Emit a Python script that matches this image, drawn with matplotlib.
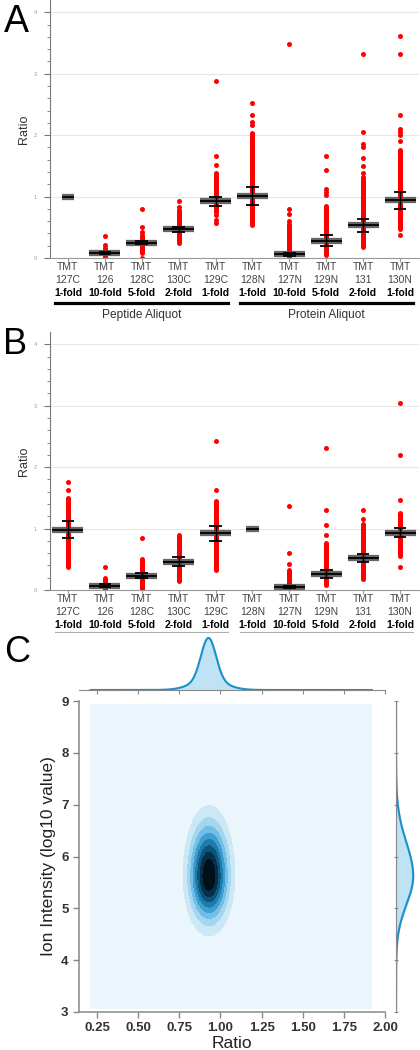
import numpy as np
import matplotlib
matplotlib.use('Agg')
import matplotlib.pyplot as plt
from matplotlib.transforms import blended_transform_factory, offset_copy
from matplotlib.colors import LinearSegmentedColormap

plt.rcParams['font.family'] = ['Liberation Sans', 'DejaVu Sans']

# === Channel labels ===
channels = ['127C', '126', '128C', '130C', '129C', '128N', '127N', '129N', '131', '130N']
folds = ['1-fold', '10-fold', '5-fold', '2-fold', '1-fold',
         '1-fold', '10-fold', '5-fold', '2-fold', '1-fold']
groups = [('Peptide Aliquot', 0, 4), ('Protein Aliquot', 5, 9)]

# === Panel A: mean, sd, dense range of points, isolated points ===
a_mean = [1.00, 0.08, 0.25, 0.47, 0.92, 1.01, 0.06, 0.28, 0.53, 0.94]
a_sd = [0.0, 0.02, 0.03, 0.04, 0.08, 0.14, 0.02, 0.09, 0.11, 0.135]
a_lo = [None, 0.00, 0.08, 0.27, 0.75, 0.54, 0.00, 0.05, 0.18, 0.48]
a_hi = [None, 0.13, 0.37, 0.78, 1.38, 2.03, 0.55, 0.85, 1.32, 1.76]
a_out = [[], [0.16, 0.21, 0.36], [0.0, 0.43, 0.51, 0.79], [0.24, 0.83, 0.92],
         [0.57, 0.62, 0.70, 1.51, 1.66, 2.88], [2.16, 2.22, 2.33, 2.53],
         [0.61, 0.72, 0.79, 3.49], [1.02, 1.08, 1.13, 1.43, 1.66],
         [1.38, 1.50, 1.62, 1.80, 1.85, 2.05, 3.32],
         [0.37, 1.90, 2.00, 2.05, 2.10, 2.32, 3.32, 3.62]]

# === Panel B ===
b_mean = [0.98, 0.07, 0.23, 0.46, 0.92, 1.00, 0.05, 0.26, 0.52, 0.93]
b_sd = [0.14, 0.02, 0.04, 0.075, 0.13, 0.0, 0.02, 0.06, 0.07, 0.075]
b_lo = [0.38, 0.00, 0.00, 0.14, 0.32, None, 0.00, 0.08, 0.20, 0.55]
b_hi = [1.50, 0.20, 0.50, 0.90, 1.45, None, 0.32, 0.76, 1.07, 1.25]
b_out = [[1.62, 1.75], [0.38], [0.85], [], [1.62, 2.43], [],
         [0.42, 0.60, 1.37], [0.90, 1.06, 1.30, 2.31], [0.18, 1.15, 1.30],
         [0.37, 1.47, 2.20, 3.05]]

# === Panel C: density (peak and spread) ===
ratio_center = 0.93
ratio_sd = 0.075
inten_center = 5.62
inten_sd_low = 0.55
inten_sd_high = 0.65
ratio_range = (0.21, 1.92)
inten_range = (3.07, 8.94)
# marginal ratio curve: sharp peak plus broader shoulder
marg_ratio_peak = 0.927
marg_ratio_sd = [0.045, 0.10]
marg_ratio_w = [0.65, 0.35]

fig = plt.figure(figsize=(4.2, 10.5), dpi=100)
W, H = 420.0, 1050.0


def strip_panel(ax, mean, sd, lo, hi, out, bold_groups):
    x = np.arange(len(channels))
    for i in x:
        if lo[i] is not None:
            ax.vlines(i, lo[i], hi[i], color='#ff0000', lw=3.6, zorder=2, capstyle='round')
        if out[i]:
            ax.plot([i] * len(out[i]), out[i], 'o', color='#ff0000', ms=3.6, mec='none', zorder=2)
        half = 0.42 if sd[i] > 0 else 0.17
        ax.hlines(mean[i], i - half, i + half, color='#555555', lw=4.5, alpha=0.9, zorder=3)
        ax.hlines(mean[i], i - half, i + half, color='black', lw=1.3, zorder=4)
        if sd[i] > 0:
            ax.vlines(i, mean[i] - sd[i], mean[i] + sd[i], color='black', lw=1.0, zorder=4)
            ax.hlines([mean[i] - sd[i], mean[i] + sd[i]], i - 0.17, i + 0.17,
                      color='black', lw=1.3, zorder=4)

    ax.set_xlim(-0.5, len(channels) - 0.5)
    ax.set_ylim(0, 4.2)
    ax.set_yticks([0, 1, 2, 3, 4])
    ax.set_yticks(np.arange(0, 4.2, 0.2), minor=True)
    ax.set_xticks(x)
    ax.set_xticklabels([])
    ax.grid(axis='y', color='#e6e6e6', lw=0.8)
    ax.set_axisbelow(True)
    for s in ['top', 'right']:
        ax.spines[s].set_visible(False)
    ax.spines['left'].set_color('#777777')
    ax.spines['bottom'].set_color('#999999')
    ax.tick_params(axis='y', which='major', length=4, color='#777777', labelsize=4,
                   labelcolor='#999999', pad=5)
    ax.tick_params(axis='y', which='minor', length=2.5, color='#777777')
    ax.tick_params(axis='x', length=3, color='#999999')
    ax.set_ylabel('Ratio', fontsize=9, color='#333333')
    ax.yaxis.set_label_coords(-0.053, 0.5)

    trans = blended_transform_factory(ax.transData, ax.transAxes)
    for i in x:
        ax.text(i, 0, 'TMT', transform=offset_copy(trans, fig=fig, y=-9, units='dots'),
                ha='center', va='center', fontsize=7.5, color='#444444')
        ax.text(i, 0, channels[i], transform=offset_copy(trans, fig=fig, y=-22, units='dots'),
                ha='center', va='center', fontsize=7.5, color='#444444')
        ax.text(i, 0, folds[i], transform=offset_copy(trans, fig=fig, y=-35, units='dots'),
                ha='center', va='center', fontsize=7.5, fontweight='bold', color='black')
    for name, g0, g1 in groups:
        if bold_groups:
            ax.plot([g0 - 0.35, g1 + 0.35], [0, 0], color='black', lw=2.3,
                    transform=offset_copy(trans, fig=fig, y=-45, units='dots'), clip_on=False)
            ax.text((g0 + g1) / 2, 0, name, ha='center', va='center', fontsize=8.6,
                    color='#333333',
                    transform=offset_copy(trans, fig=fig, y=-57, units='dots'))
        else:
            ax.plot([g0 - 0.35, g1 + 0.35], [0, 0], color='#b0b0b0', lw=0.8,
                    transform=offset_copy(trans, fig=fig, y=-42, units='dots'), clip_on=False)


# ==== Panel A ====
axA = fig.add_axes([49.5 / W, 1 - 258 / H, 369 / W, 258 / H])
strip_panel(axA, a_mean, a_sd, a_lo, a_hi, a_out, True)

# ==== Panel B ====
axB = fig.add_axes([49.5 / W, 1 - 590 / H, 369 / W, 258 / H])
strip_panel(axB, b_mean, b_sd, b_lo, b_hi, b_out, False)

# ==== Panel C ====
xg = np.linspace(ratio_range[0], ratio_range[1], 400)
yg = np.linspace(inten_range[0], inten_range[1], 400)
XX, YY = np.meshgrid(xg, yg)
sy = np.where(YY > inten_center, inten_sd_high, inten_sd_low)
ZZ = np.exp(-0.5 * ((XX - ratio_center) / ratio_sd) ** 2) * np.exp(-0.5 * ((YY - inten_center) / sy) ** 2)

cmap = LinearSegmentedColormap.from_list(
    'kde', ['#ebf6fc', '#c2e4f5', '#86c9ea', '#3d9fd2', '#15709f', '#073c5c', '#02101a'])
n_levels = 10
band_colors = [cmap(v) for v in np.linspace(0, 1, n_levels - 1)]

axC = fig.add_axes([79 / W, 1 - 1012 / H, 306 / W, 311 / H])
axC.contourf(XX, YY, ZZ, levels=np.linspace(0, ZZ.max(), n_levels), colors=band_colors)
axC.set_xlim(0.14, 2.0)
axC.set_ylim(3, 9)
axC.set_xticks([0.25, 0.50, 0.75, 1.00, 1.25, 1.50, 1.75, 2.00])
axC.set_xticklabels(['0.25', '0.50', '0.75', '1.00', '1.25', '1.50', '1.75', '2.00'])
axC.set_yticks([3, 4, 5, 6, 7, 8, 9])
for s in ['top', 'right']:
    axC.spines[s].set_visible(False)
for s in ['left', 'bottom']:
    axC.spines[s].set_color('#888888')
    axC.spines[s].set_linewidth(1.1)
axC.tick_params(length=4, width=1, color='#888888', labelsize=9.5, labelcolor='#333333')
for lab in axC.get_xticklabels() + axC.get_yticklabels():
    lab.set_fontweight('bold')
axC.set_xlabel('Ratio', fontsize=12.5, color='#222222', labelpad=1)
axC.set_ylabel('Ion Intensity (log10 value)', fontsize=12.5, color='#222222', labelpad=4)

line_col = '#1b91cc'
fill_col = '#bfe2f5'

# top marginal
dens_x = sum(w / s * np.exp(-0.5 * ((xg - marg_ratio_peak) / s) ** 2)
             for w, s in zip(marg_ratio_w, marg_ratio_sd))
axT = fig.add_axes([79 / W, 1 - 690 / H, 306 / W, 56 / H])
axT.fill_between(xg, 0, dens_x, color=fill_col)
axT.plot(xg, dens_x, color=line_col, lw=1.5)
axT.set_xlim(0.14, 2.0)
axT.set_ylim(0, dens_x.max() / 0.93)
axT.set_xticks([0.25, 0.50, 0.75, 1.00, 1.25, 1.50, 1.75, 2.00])
axT.set_xticklabels([])
axT.set_yticks([])
for s in ['top', 'right', 'left']:
    axT.spines[s].set_visible(False)
axT.spines['bottom'].set_color('#888888')
axT.tick_params(length=3, color='#888888')
axT.patch.set_alpha(0)

# right marginal
sy1 = np.where(yg > inten_center, inten_sd_high, inten_sd_low)
dens_y = np.exp(-0.5 * ((yg - inten_center) / sy1) ** 2)
axR = fig.add_axes([396 / W, 1 - 1012 / H, 22 / W, 311 / H])
axR.fill_betweenx(yg, 0, dens_y, color=fill_col)
axR.plot(dens_y, yg, color=line_col, lw=1.5)
axR.set_ylim(3, 9)
axR.set_xlim(0, dens_y.max() / 0.78)
axR.set_yticks([3, 4, 5, 6, 7, 8, 9])
axR.set_yticklabels([])
axR.set_xticks([])
for s in ['top', 'right', 'bottom']:
    axR.spines[s].set_visible(False)
axR.spines['left'].set_color('#888888')
axR.tick_params(length=3, color='#888888', direction='inout')
axR.patch.set_alpha(0)

# panel letters
fig.text(16 / W, 1 - 22 / H, 'A', fontsize=27, ha='center', va='center')
fig.text(15 / W, 1 - 345 / H, 'B', fontsize=26, ha='center', va='center')
fig.text(17 / W, 1 - 653 / H, 'C', fontsize=26, ha='center', va='center')

fig.savefig('out.png', dpi=100)
